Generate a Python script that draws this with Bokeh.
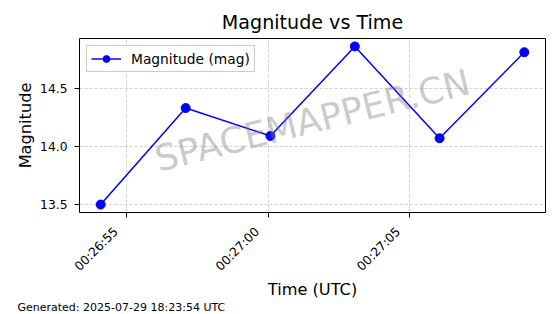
import math
import pandas as pd
from bokeh.plotting import figure
from bokeh.models import (Range1d, FixedTicker, DatetimeTickFormatter, Label,
                          Legend, LegendItem, PrintfTickFormatter, Title)
from bokeh.embed import file_html
from bokeh.resources import INLINE

# ---- data ----
times = ["00:26:54.07", "00:26:57.08", "00:27:00.08",
         "00:27:03.07", "00:27:06.07", "00:27:09.07"]
magnitudes = [13.50, 14.33, 14.09, 14.86, 14.07, 14.81]
tick_labels = ["00:26:55", "00:27:00", "00:27:05"]
y_ticks = [13.5, 14.0, 14.5]
date = "2025-07-29"
title_text = "Magnitude vs Time"
x_label = "Time (UTC)"
y_label = "Magnitude"
series_label = "Magnitude (mag)"
footer = "Generated: 2025-07-29 18:23:54 UTC"
watermark = "SPACEMAPPER.CN"

FONT = "DejaVu Sans"
NBSP = "\u00a0"

t = pd.to_datetime([f"{date} {s}" for s in times])
tick_ms = [pd.Timestamp(f"{date} {s}").timestamp() * 1000 for s in tick_labels]

# matplotlib-like 5% margins
tmin, tmax = t.min(), t.max()
tpad = (tmax - tmin) * 0.05
ymin, ymax = min(magnitudes), max(magnitudes)
ypad = (ymax - ymin) * 0.05

p = figure(width=560, height=314, x_axis_type="datetime",
           output_backend="svg", toolbar_location=None,
           x_range=Range1d(tmin - tpad, tmax + tpad),
           y_range=Range1d(ymin - ypad, ymax + ypad),
           min_border_left=79, min_border_right=15,
           min_border_top=38, min_border_bottom=102)

p.title.text = title_text
p.title.align = "center"
p.title.text_font = FONT
p.title.text_font_size = "19.1px"
p.title.text_font_style = "normal"
p.title.text_color = "black"

p.outline_line_color = "black"
p.outline_line_width = 1
p.outline_line_alpha = 1

p.xaxis.ticker = FixedTicker(ticks=tick_ms)
p.xaxis.formatter = DatetimeTickFormatter(
    microseconds="%H:%M:%S", milliseconds="%H:%M:%S", seconds="%H:%M:%S",
    minsec="%H:%M:%S", minutes="%H:%M:%S", hourmin="%H:%M:%S",
    hours="%H:%M:%S", days="%H:%M:%S", months="%H:%M:%S", years="%H:%M:%S")
# shift rotated labels so their right end sits at the tick (matplotlib ha="right")
p.xaxis.major_label_overrides = {ms: lab + NBSP * 4 for ms, lab in zip(tick_ms, tick_labels)}
p.xaxis.major_label_orientation = math.pi / 4
p.yaxis.ticker = FixedTicker(ticks=y_ticks)
p.yaxis.formatter = PrintfTickFormatter(format="%.1f")

for ax in (p.xaxis, p.yaxis):
    ax.axis_line_color = None
    ax.major_tick_out = 5
    ax.major_tick_in = 0
    ax.major_tick_line_color = "black"
    ax.minor_tick_line_color = None
    ax.major_label_text_font = FONT
    ax.major_label_text_font_size = "12.3px"
    ax.major_label_text_color = "black"
    ax.axis_label_text_font = FONT
    ax.axis_label_text_font_size = "16.2px"
    ax.axis_label_text_font_style = "normal"
    ax.axis_label_text_color = "black"

p.xaxis.axis_label = x_label
p.yaxis.axis_label = y_label
p.yaxis.major_label_standoff = 7
p.yaxis.axis_label_standoff = 2
p.xaxis.major_label_standoff = 1
p.xaxis.axis_label_standoff = -2

for g in (p.xgrid, p.ygrid):
    g.grid_line_color = "#b0b0b0"
    g.grid_line_alpha = 0.6
    g.grid_line_dash = "3 2"
p.xgrid.ticker = FixedTicker(ticks=tick_ms)
p.ygrid.ticker = FixedTicker(ticks=y_ticks)

ln = p.line(t, magnitudes, line_color="#0000ff", line_width=1.5)
sc = p.scatter(t, magnitudes, size=9, fill_color="#0000ff", line_color="#0000ff")

legend = Legend(items=[LegendItem(label=series_label, renderers=[ln, sc])],
                location="top_left", margin=7, padding=4, spacing=0,
                glyph_width=30, glyph_height=17, label_height=17,
                label_standoff=10,
                label_text_font=FONT, label_text_font_size="13.8px",
                label_text_color="black",
                border_line_color="#cccccc", border_line_alpha=1,
                background_fill_alpha=0.8)
p.add_layout(legend)

p.add_layout(Label(x=233, y=92, x_units="screen", y_units="screen",
                   text=watermark, angle=14, angle_units="deg",
                   text_align="center", text_baseline="middle",
                   text_font=FONT, text_font_size="36px",
                   text_color="gray", text_alpha=0.42))

foot = Title(text=footer, align="left", offset=-62, standoff=-6,
             text_font=FONT, text_font_size="11px",
             text_font_style="normal", text_color="black")
p.add_layout(foot, "below")

open("out.html", "w").write(file_html(p, INLINE))
